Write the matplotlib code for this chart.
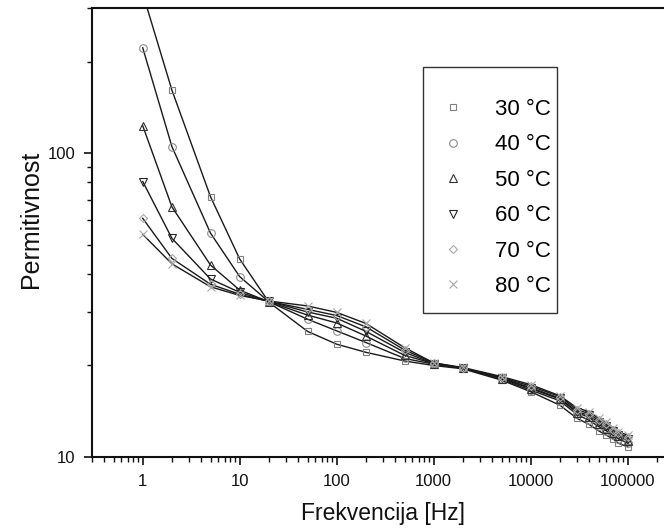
import numpy as np
import matplotlib.pyplot as plt
from matplotlib.lines import Line2D
from matplotlib.patches import Rectangle
from matplotlib.ticker import LogLocator, FixedLocator, FuncFormatter, NullFormatter

plt.rcParams['font.family'] = ['Liberation Sans', 'DejaVu Sans']

# frekvencije mjerenja [Hz]
freq = [1, 2, 5, 10, 20, 50, 100, 200, 500, 1000, 2000, 5000, 10000,
        20000, 30000, 40000, 50000, 60000, 70000, 80000, 100000]

# permitivnost po temperaturama (ocitano sa slike)
eps_30 = [335, 161, 71.8, 44.8, 32.3, 25.9, 23.5, 22.1, 20.7, 20.0, 19.5, 17.9, 16.4,
          14.8, 13.4, 12.8, 12.2, 11.8, 11.5, 11.1, 10.8]
eps_40 = [222, 105, 54.5, 39.2, 32.4, 28.4, 26.0, 23.8, 21.1, 20.2, 19.6, 18.0, 16.6,
          15.3, 13.8, 13.2, 12.6, 12.2, 11.8, 11.5, 11.1]
eps_50 = [123, 66.5, 42.8, 35.4, 32.4, 29.3, 27.6, 25.0, 21.6, 20.3, 19.6, 18.1, 16.8,
          15.5, 14.0, 13.5, 12.8, 12.4, 12.0, 11.7, 11.3]
eps_60 = [80.6, 52.4, 38.5, 34.8, 32.5, 30.0, 28.6, 25.9, 22.1, 20.3, 19.6, 18.2, 16.9,
          15.6, 14.1, 13.7, 13.0, 12.6, 12.2, 11.8, 11.5]
eps_70 = [61.0, 45.0, 37.0, 34.3, 32.5, 30.6, 29.2, 26.8, 22.5, 20.4, 19.6, 18.3, 17.1,
          15.8, 14.3, 13.9, 13.2, 12.8, 12.3, 12.0, 11.6]
eps_80 = [54.0, 43.2, 36.3, 34.0, 32.6, 31.4, 29.9, 27.5, 22.9, 20.4, 19.7, 18.4, 17.3,
          15.9, 14.5, 14.1, 13.4, 13.0, 12.5, 12.1, 11.8]

labels = ['30 °C', '40 °C', '50 °C', '60 °C', '70 °C', '80 °C']
series = [eps_30, eps_40, eps_50, eps_60, eps_70, eps_80]
markers = ['s', 'o', '^', 'v', 'D', 'x']
mcolors = ['#808080', '#8c8c8c', '#303030', '#252525', '#a8a8a8', '#a8a8a8']
msizes = [5, 5.5, 5.5, 5.5, 4.5, 5.5]

W, H = 664, 531
fig = plt.figure(figsize=(W / 100, H / 100), dpi=100)
# desni rub osi je izvan slike (kao na originalu)
ax = fig.add_axes([92 / W, 74 / H, 582 / W, 449 / H])

handles = []
for y, lab, m, c, ms in zip(series, labels, markers, mcolors, msizes):
    ax.plot(freq, y, color='#1a1a1a', lw=1.0, zorder=2)
    ax.plot(freq, y, linestyle='none', marker=m, ms=ms, mfc='none', mec=c, mew=0.8, zorder=3)
    handles.append(Line2D([], [], linestyle='none', marker=m, ms=ms, mfc='none', mec=c, mew=0.8,
                          label=lab))

ax.set_xscale('log')
ax.set_yscale('log')
ax.set_xlim(0.3, 3e5)
ax.set_ylim(10, 300)

ax.xaxis.set_major_locator(FixedLocator([1, 10, 100, 1000, 10000, 100000]))
ax.xaxis.set_minor_locator(LogLocator(base=10, subs=np.arange(2, 10)))
ax.xaxis.set_major_formatter(FuncFormatter(lambda v, p: '%d' % v))
ax.xaxis.set_minor_formatter(NullFormatter())
ax.yaxis.set_major_locator(FixedLocator([10, 100]))
ax.yaxis.set_minor_locator(LogLocator(base=10, subs=np.arange(2, 10)))
ax.yaxis.set_major_formatter(FuncFormatter(lambda v, p: '%d' % v))
ax.yaxis.set_minor_formatter(NullFormatter())

ax.tick_params(which='major', direction='out', length=6, width=1.2, labelsize=12,
               colors='#111111', pad=6)
ax.tick_params(which='minor', direction='out', length=3.5, width=1.0, colors='#111111')
ax.tick_params(top=False, right=False, which='both')

for s in ['left', 'bottom', 'top']:
    ax.spines[s].set_linewidth(1.5)
    ax.spines[s].set_color('#111111')
ax.spines['right'].set_visible(False)

ax.set_xlabel('Frekvencija [Hz]', fontsize=16.5, color='#111111')
ax.set_ylabel('Permitivnost', fontsize=18, color='#111111')
ax.xaxis.set_label_coords(0.5, -0.10)
ax.yaxis.set_label_coords(-0.085, 0.53)

# legenda bez okvira + zaseban okvir
leg = fig.legend(handles=handles, loc='upper left',
                 bbox_to_anchor=(442 / W, 1 - 99 / H),
                 fontsize=16, frameon=False,
                 borderpad=0, labelspacing=0.65, handlelength=1.0, handletextpad=1.37,
                 borderaxespad=0)
fig.add_artist(Rectangle((423 / W, 1 - 313 / H), 134 / W, 246 / H,
                         transform=fig.transFigure, fill=False,
                         edgecolor='#333333', linewidth=1.0))

plt.savefig('out.png', dpi=100)
plt.close(fig)
